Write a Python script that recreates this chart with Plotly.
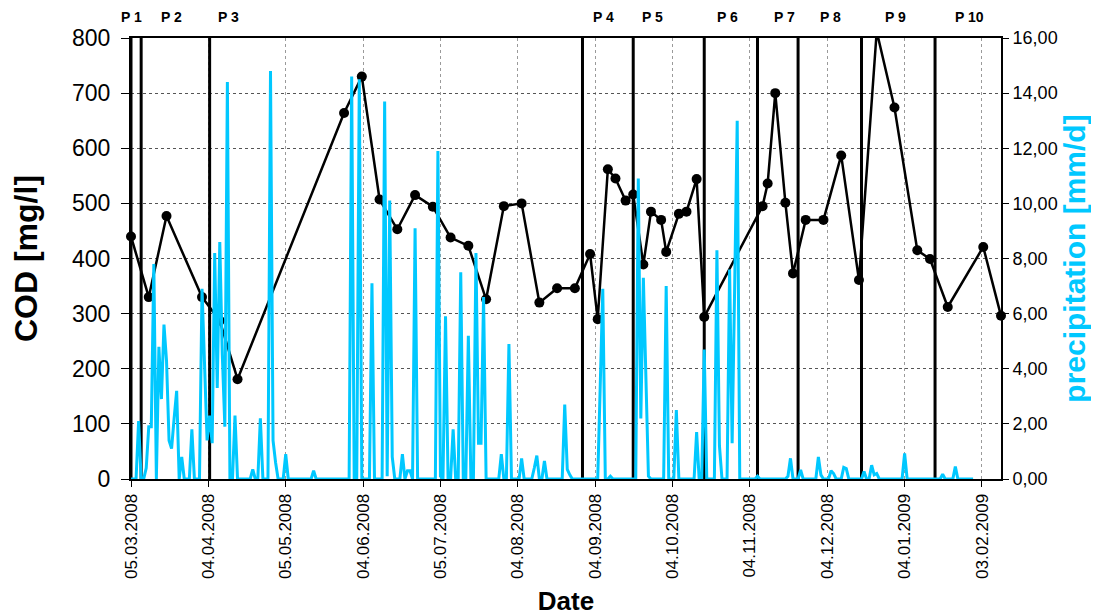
import pandas as pd
import plotly.graph_objects as go

# ---------------- data ----------------
cod_dates = ["2008-03-05", "2008-03-12", "2008-03-19", "2008-04-02", "2008-04-09", "2008-04-16",
             "2008-05-28", "2008-06-04", "2008-06-11", "2008-06-18", "2008-06-25",
             "2008-07-02", "2008-07-09", "2008-07-16", "2008-07-23", "2008-07-30",
             "2008-08-06", "2008-08-13", "2008-08-20", "2008-08-27",
             "2008-09-02", "2008-09-05", "2008-09-09", "2008-09-12", "2008-09-16", "2008-09-19",
             "2008-09-23", "2008-09-26", "2008-09-30",
             "2008-10-02", "2008-10-07", "2008-10-10", "2008-10-14", "2008-10-17",
             "2008-11-09", "2008-11-11", "2008-11-14", "2008-11-18", "2008-11-21", "2008-11-26",
             "2008-12-03", "2008-12-10", "2008-12-17", "2008-12-24", "2008-12-31",
             "2009-01-09", "2009-01-14", "2009-01-21", "2009-02-04", "2009-02-11"]
cod_values = [440, 330, 477, 330, 287, 181,
              664, 730, 507, 453, 515,
              494, 438, 423, 326, 495,
              500, 320, 346, 346,
              408, 290, 562, 545, 505, 516, 389, 485, 470,
              412, 481, 485, 544, 294,
              495, 536, 700, 501, 373, 470,
              470, 587, 361, 812, 674,
              415, 399, 312, 421, 296]

precip_start = "2008-03-05"
precip_mar = [0, 0, 0, 2.1, 0, 0, 0.4, 1.9, 1.9, 7.8, 0, 4.8, 2.9, 5.6, 4.3, 1.4, 1.1, 2.2, 3.2, 0,
              0.8, 0, 0, 0, 1.8, 0, 0]
precip_apr = [0, 6.9, 4.3, 1.4, 2.3, 1.3, 8.2, 3.3, 8.6, 4.5, 1.9, 14.4, 0, 0, 2.3, 0, 0, 0, 0, 0,
              0, 0.35, 0, 0, 2.2, 0, 0, 0, 14.8, 1.4]
precip_may = [0.6, 0, 0, 0, 0.9, 0, 0, 0, 0, 0, 0, 0, 0, 0, 0, 0.3, 0, 0, 0, 0,
              0, 0, 0, 0, 0, 0, 0, 0, 0, 0, 14.6]
precip_jun = [0, 0, 14.5, 0, 0, 0, 0, 7.1, 0, 0, 0, 0, 13.7, 0.1, 10.1, 0.8, 0, 0, 0, 0.9,
              0, 0.3, 0.3, 0, 9.1, 0, 0, 0, 0, 0]
precip_jul = [0, 0, 0, 11.9, 0.1, 0, 5.9, 0, 0, 1.8, 0, 0, 7.5, 0, 0, 5.2, 0, 0, 8.2, 1.3,
              1.3, 6.6, 0, 0, 0, 0, 0, 0, 0.9, 0, 0]
precip_aug = [4.9, 0, 0, 0, 0, 0.75, 0, 0, 0, 0, 0.4, 0.85, 0, 0, 0.65, 0, 0, 0, 0, 0,
              0, 0, 2.7, 0.35, 0.15, 0, 0, 0, 0, 0, 0]
precip_sep = [0, 0, 0, 0, 0, 3.4, 6.9, 0, 0, 0.1, 0, 0, 0, 0, 0, 0, 0, 0, 0, 0,
              10.9, 2.2, 7.3, 3.5, 0.1, 0, 0, 0, 0, 0]
precip_oct = [0, 7.0, 0, 0, 0, 2.5, 0, 0, 0, 0, 0, 0, 0, 1.7, 0, 0, 4.7, 0, 0, 0,
              0, 8.3, 1.2, 0, 0, 0, 7.6, 1.3, 7.0, 13.0, 0]
precip_nov = [0, 0, 0, 0, 0, 0, 0.1, 0, 0, 0, 0, 0, 0, 0, 0, 0, 0, 0, 0.1, 0.75,
              0, 0, 0, 0.33, 0, 0, 0, 0, 0, 0]
precip_dec = [0.8, 0.15, 0, 0, 0, 0.3, 0.2, 0, 0, 0, 0.42, 0.38, 0, 0, 0, 0, 0, 0, 0.27, 0,
              0, 0.5, 0.15, 0.2, 0, 0, 0, 0, 0, 0, 0]
precip_jan = [0, 0, 0, 0.93, 0, 0, 0, 0, 0, 0, 0, 0, 0, 0, 0, 0, 0, 0, 0.17, 0,
              0, 0, 0, 0.45, 0, 0, 0, 0, 0, 0, 0]

period_dates = ["2008-03-05", "2008-03-09", "2008-04-05", "2008-08-30", "2008-09-19",
                "2008-10-17", "2008-11-07", "2008-11-23", "2008-12-18", "2009-01-16"]
period_labels = ["P 1", "P 2", "P 3", "P 4", "P 5", "P 6", "P 7", "P 8", "P 9", "P 10"]
period_label_dates = ["2008-03-05", "2008-03-21", "2008-04-12 14:00", "2008-09-07 10:00",
                      "2008-09-26 12:00", "2008-10-26", "2008-11-17 12:00", "2008-12-05 14:00",
                      "2008-12-31 07:00", "2009-01-29 17:00"]

precip_values = (precip_mar + precip_apr + precip_may + precip_jun + precip_jul + precip_aug +
                 precip_sep + precip_oct + precip_nov + precip_dec + precip_jan)
precip_dates = pd.date_range(precip_start, periods=len(precip_values), freq="D")

# ---------------- figure ----------------
FONT = "Arial, Liberation Sans, sans-serif"
CYAN = "#00C8FF"

fig = go.Figure()

# period boundary lines
vx, vy = [], []
for d in period_dates:
    vx += [d, d, None]
    vy += [0, 800, None]
fig.add_trace(go.Scatter(x=vx, y=vy, mode="lines", line=dict(color="black", width=3),
                         hoverinfo="skip", showlegend=False))

fig.add_trace(go.Scatter(x=cod_dates, y=cod_values, mode="lines+markers",
                         line=dict(color="black", width=2.5),
                         marker=dict(color="black", size=10),
                         cliponaxis=False, showlegend=False, name="COD"))

fig.add_trace(go.Scatter(x=precip_dates, y=precip_values, mode="lines", yaxis="y2",
                         line=dict(color=CYAN, width=3), showlegend=False,
                         name="precipitation"))

for lbl, d in zip(period_labels, period_label_dates):
    fig.add_annotation(x=d, y=1.047, xref="x", yref="paper", text="<b>%s</b>" % lbl,
                       showarrow=False, font=dict(size=14, color="black", family=FONT),
                       xanchor="center", yanchor="middle")

fig.update_layout(
    width=1091, height=608,
    margin=dict(l=123, r=98, t=30, b=137),
    paper_bgcolor="white", plot_bgcolor="white",
    separators=",.",
    font=dict(family=FONT, color="black"),
    xaxis=dict(
        type="date", automargin=False,
        range=["2008-03-05", "2009-02-11"],
        tick0="2008-03-05", dtick=30.5 * 86400000,
        tickformat="%d.%m.%Y", tickangle=-90,
        tickfont=dict(size=17),
        ticks="outside", ticklen=6, tickcolor="black",
        showline=True, linecolor="black", linewidth=2, mirror=True,
        showgrid=True, gridcolor="#9a9a9a", griddash="dot", gridwidth=1,
        zeroline=False,
        title=dict(text="<b>Date</b>", font=dict(size=26), standoff=15),
    ),
    yaxis=dict(
        range=[0, 800], dtick=100, automargin=False,
        tickfont=dict(size=23),
        ticks="outside", ticklen=8, tickcolor="black", ticklabelstandoff=6,
        showline=True, linecolor="black", linewidth=2,
        showgrid=True, gridcolor="#555555", griddash="dot", gridwidth=1,
        zeroline=False,
        title=dict(text="<b>COD [mg/l]</b>", font=dict(size=32), standoff=26),
    ),
    yaxis2=dict(
        overlaying="y", side="right", automargin=False,
        range=[0, 16], dtick=2, tickformat=".2f",
        tickfont=dict(size=18),
        ticks="outside", ticklen=6, tickcolor="black",
        showline=True, linecolor="black", linewidth=2,
        showgrid=False, zeroline=False,
        title=dict(text="<b>precipitation [mm/d]</b>", font=dict(size=30, color=CYAN), standoff=6),
    ),
)

fig.write_html("out.html")
